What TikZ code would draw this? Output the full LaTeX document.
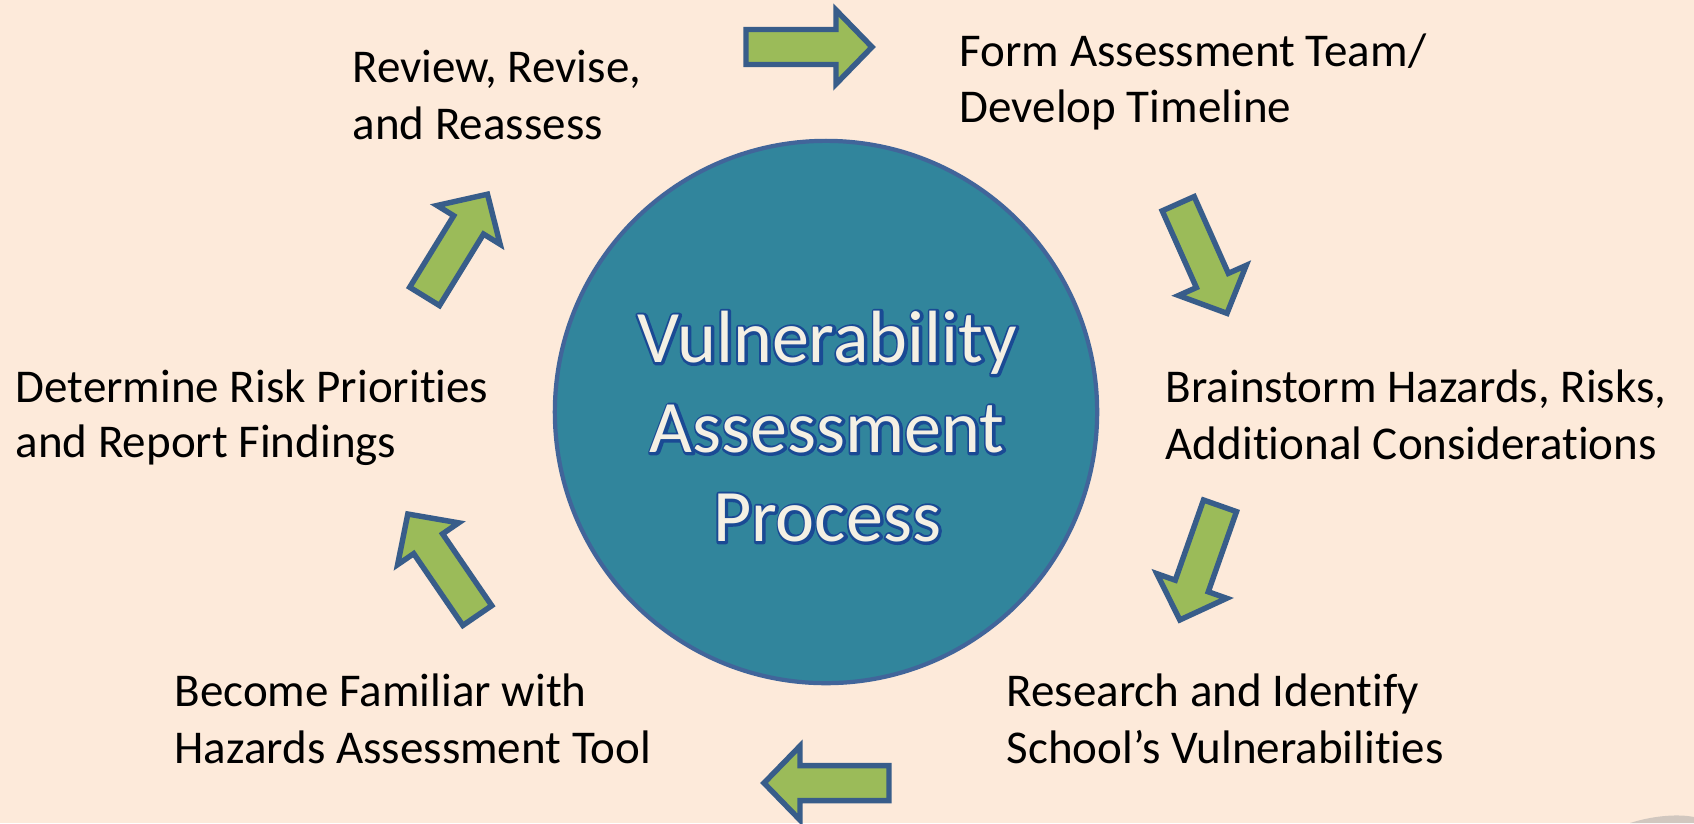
\documentclass[tikz,border=0pt]{standalone}
\usepackage{fontspec}
\setmainfont{Carlito}[RawFeature={-liga;-clig}]
\definecolor{bg}{HTML}{FDEADA}
\definecolor{circfill}{HTML}{31859C}
\definecolor{circline}{HTML}{41659A}
\definecolor{arrfill}{HTML}{9BBB59}
\definecolor{arrline}{HTML}{385D8A}
\definecolor{ctext}{HTML}{F4F0E4}
\definecolor{cout}{HTML}{1A4A94}
\newcommand\blockarrow[4]{%
  \draw[blockarr, shift={(#1,#2)}, rotate=#3] (0,-17.5) -- ({#4-36},-17.5) -- ({#4-36},-37) -- (#4,0) -- ({#4-36},37) -- ({#4-36},17.5) -- (0,17.5) -- cycle;}
\newcommand\stroked[1]{\special{pdf:literal direct 1.5 w 1 j 2 Tr}#1\special{pdf:literal direct 0 Tr}}
\newcommand\circtextline[4]{%
  \node[ctxt, text=cout] (#1-o) at ({#2+0.6},{#3+0.8}) {\stroked{#4}};
  \node[ctxt, text=ctext] (#1) at (#2,#3) {#4};}
\begin{document}
\begin{tikzpicture}[x=0.01cm, y=-0.01cm,
  blockarr/.style={draw=arrline, fill=arrfill, line width=1.55pt, line join=miter},
  lbl/.style={anchor=base west, inner sep=0pt, text=black, font=\fontsize{13.37}{16}\selectfont},
  ctxt/.style={anchor=base, inner sep=0pt, font=\fontsize{21.05}{25}\selectfont}]
\fill[bg] (0,0) rectangle (1694,823);
\useasboundingbox (0,0) rectangle (1694,823);
% page curl shadow
\fill[black!35, opacity=0.5] (1630,823) .. controls (1655,815) and (1680,814) .. (1694,817) -- (1694,823) -- cycle;
% central circle
\node[circle, draw=circline, line width=1.2pt, fill=circfill, minimum size=5.42cm, inner sep=0pt] (c) at (826,412) {};
\circtextline{t1}{827}{362}{Vulnerability}
\circtextline{t2}{827}{452}{Assessment}
\circtextline{t3}{827}{541}{Process}
% labels
\node[lbl] (form1) at (959,66) {Form Assessment Team/};
\node[lbl] (form2) at (959,122) {Develop Timeline};
\node[lbl] (brain1) at (1165,402) {Brainstorm Hazards, Risks,};
\node[lbl] (brain2) at (1165,459) {Additional Considerations};
\node[lbl] (res1) at (1006,706) {Research and Identify};
\node[lbl] (res2) at (1006,763) {School’s Vulnerabilities};
\node[lbl] (bec1) at (174,706) {Become Familiar with};
\node[lbl] (bec2) at (174,763) {Hazards Assessment Tool};
\node[lbl] (det1) at (15,402) {Determine Risk Priorities};
\node[lbl] (det2) at (15,457) {and Report Findings};
\node[lbl] (rev1) at (352,82) {Review, Revise,};
\node[lbl] (rev2) at (352,139) {and Reassess};
% arrows
\blockarrow{746}{47}{0}{126}
\blockarrow{1178.2}{203.7}{-66}{120}
\blockarrow{1220}{505.8}{-109.4}{121}
\blockarrow{889}{783}{180}{125}
\blockarrow{477.3}{615.5}{124.4}{123}
\blockarrow{424.6}{296.4}{58.4}{120}
\end{tikzpicture}
\end{document}
